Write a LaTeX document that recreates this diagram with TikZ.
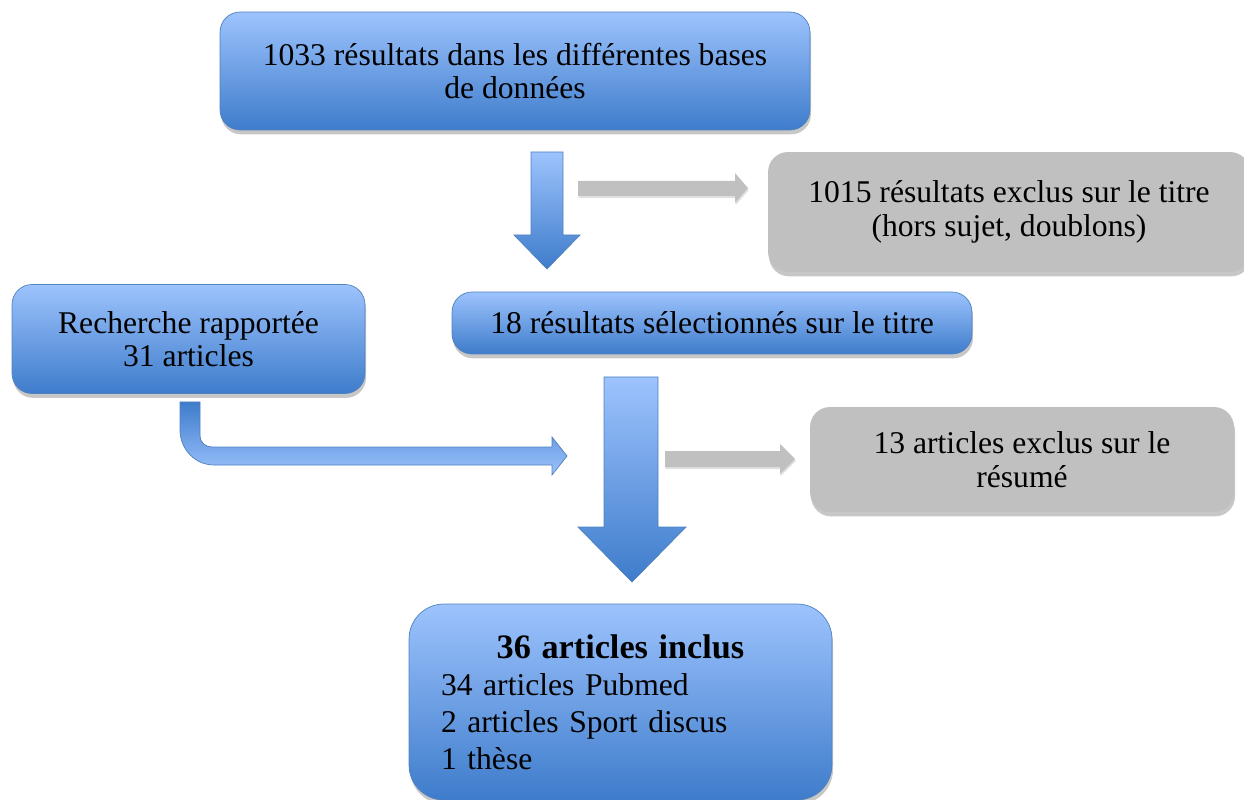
\documentclass[tikz,border=0pt]{standalone}
\usepackage{fontspec}
\setmainfont{Liberation Serif}
\usetikzlibrary{shadows}
\definecolor{bluetop}{HTML}{9DC3FD}
\definecolor{bluebot}{HTML}{3E7CCB}
\definecolor{blueline}{HTML}{4F81BD}
\definecolor{greybox}{HTML}{C0C0C0}
\tikzset{
  shadowed/.style={drop shadow={shadow xshift=0.6pt, shadow yshift=-2.5pt, fill=black, opacity=0.22}},
  bluebox/.style={draw=blueline, thin, rounded corners=0.4cm, top color=bluetop, bottom color=bluebot,
    shadowed, align=center, font=\fontsize{18}{19}\selectfont, inner sep=0pt},
  greybox/.style={fill=greybox, rounded corners=0.4cm, shadowed, align=center,
    font=\fontsize{18}{19}\selectfont, inner sep=0pt},
  bluearrow/.style={draw=blueline, thin, top color=bluetop, bottom color=bluebot},
  greyarrow/.style={fill=greybox, drop shadow={shadow xshift=0.4pt, shadow yshift=-1.2pt, fill=black, opacity=0.12}}
}
\begin{document}
\begin{tikzpicture}[x=0.02cm, y=-0.02cm]
\useasboundingbox (0,0) rectangle (1244,800);
% boxes
\node[bluebox, minimum width=11.8cm, minimum height=2.36cm] (bases) at (515,71)
  {1033 résultats dans les différentes bases\\de données};
\node[greybox, minimum width=9.64cm, minimum height=2.4cm] (titreexcl) at (1009,212)
  {1015 résultats exclus sur le titre\\(hors sujet, doublons)};
\node[bluebox, minimum width=10.4cm, minimum height=1.24cm] (titresel) at (712,323)
  {18 résultats sélectionnés sur le titre};
\node[bluebox, minimum width=7.06cm, minimum height=2.18cm] (rapport) at (188.5,339)
  {Recherche rapportée\\31 articles};
\node[greybox, minimum width=8.48cm, minimum height=2.1cm] (resumeexcl) at (1022,459.5)
  {13 articles exclus sur le\\résumé};
\node[bluebox, rounded corners=0.7cm, minimum width=8.46cm, minimum height=3.92cm,
  text width=7.18cm, align=left, font=\fontsize{18}{21}\selectfont] (inclus) at (620.5,702)
  {\makebox[7.18cm]{\fontsize{19.5}{21}\selectfont\textbf{36 articles inclus}}\\
   34 articles Pubmed\\2 articles Sport discus\\1 thèse};
% blue arrows
\draw[bluearrow] (531,152) -- (563,152) -- (563,235) -- (580,235) -- (547,269)
  -- (514,235) -- (531,235) -- cycle;
\draw[bluearrow] (604,377) -- (658,377) -- (658,527) -- (686,527) -- (632,582)
  -- (578,527) -- (604,527) -- cycle;
\draw[draw=blueline, thin, top color=bluebot, bottom color=bluetop]
  (180,402) -- (200,402) -- (200,436) to[out=270, in=180] (212,447) -- (552,447)
  -- (552,437) -- (567,456) -- (552,475) -- (552,465) -- (214,465)
  to[out=180, in=270] (180,430) -- cycle;
% grey arrows
\fill[greyarrow] (578,181) -- (735,181) -- (735,173) -- (748,188) -- (735,203)
  -- (735,196) -- (578,196) -- cycle;
\fill[greyarrow] (665,451) -- (780,451) -- (780,444) -- (795,459) -- (780,474)
  -- (780,467) -- (665,467) -- cycle;
\end{tikzpicture}
\end{document}
